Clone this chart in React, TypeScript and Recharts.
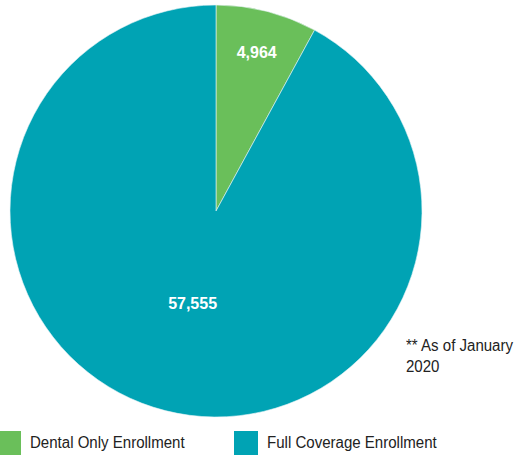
import { PieChart, Pie, Cell, Legend } from 'recharts';

const categories = ['Dental Only Enrollment', 'Full Coverage Enrollment'];
const enrollment = [4964, 57555];
const colors = ['#6abf5a', '#00a3b4'];

const data = categories.map((name, i) => ({ name, value: enrollment[i] }));

const FONT = '"Liberation Sans", Arial, sans-serif';
// narrow the sans face a little to get an Arial Narrow look
const narrow = { display: 'inline-block', transform: 'scaleX(0.94)', transformOrigin: 'left center', whiteSpace: 'nowrap' } as const;

const RADIAN = Math.PI / 180;

const renderLabel = (props: any) => {
  const { cx, cy, midAngle, outerRadius, value, index } = props;
  const r = outerRadius * (index === 0 ? 0.8 : 0.46);
  const x = cx + r * Math.cos(-midAngle * RADIAN);
  const y = cy + r * Math.sin(-midAngle * RADIAN) + 1;
  return (
    <text
      x={x}
      y={y}
      fill="#fff"
      textAnchor="middle"
      dominantBaseline="central"
      style={{ fontFamily: FONT, fontSize: 16, fontWeight: 700 }}
    >
      {value.toLocaleString('en-US')}
    </text>
  );
};

const renderLegend = () => (
  <div style={{ display: 'flex', fontFamily: FONT, fontSize: 16, color: '#222' }}>
    {data.map((d, i) => (
      <div key={d.name} style={{ display: 'flex', alignItems: 'center', width: 234 }}>
        <span style={{ width: i === 0 ? 21 : 24, height: 24, background: colors[i], marginRight: 9, flexShrink: 0 }} />
        <span style={narrow}>{d.name}</span>
      </div>
    ))}
  </div>
);

export default function App() {
  return (
    <div style={{ position: 'absolute', left: 0, top: 0, width: 516, height: 458, background: '#fff' }}>
      <PieChart width={516} height={458} margin={{ top: 0, right: 0, bottom: 0, left: 0 }}>
        <Pie
          data={data}
          dataKey="value"
          nameKey="name"
          cx={216}
          cy={211}
          outerRadius={206}
          startAngle={90}
          endAngle={-270}
          stroke="#e8f4f6"
          strokeWidth={0.6}
          labelLine={false}
          label={renderLabel}
          isAnimationActive={false}
        >
          {data.map((d, i) => (
            <Cell key={d.name} fill={colors[i]} />
          ))}
        </Pie>
        <Legend
          content={renderLegend}
          wrapperStyle={{ position: 'absolute', left: 0, top: 431, width: 516 }}
        />
      </PieChart>
      <div
        style={{
          position: 'absolute',
          left: 406,
          top: 335,
          fontFamily: FONT,
          fontSize: 16,
          lineHeight: '21px',
          color: '#222',
        }}
      >
        <span style={narrow}>** As of January</span>
        <br />
        <span style={narrow}>2020</span>
      </div>
    </div>
  );
}
